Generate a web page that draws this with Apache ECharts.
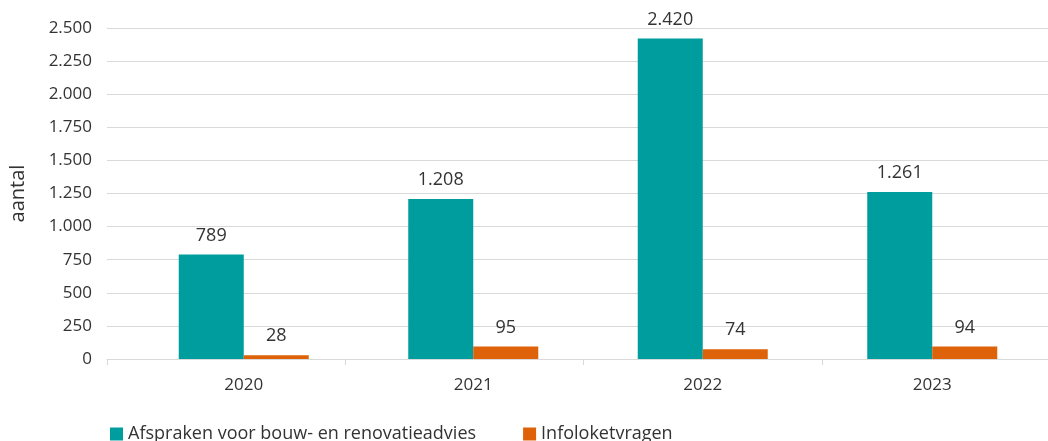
<!DOCTYPE html>
<html>
<head>
<meta charset="utf-8">
<script src="https://cdn.jsdelivr.net/npm/echarts@6/dist/echarts.min.js"></script>
<style>
  html, body { margin: 0; padding: 0; background: #fff; }
  #chart { width: 1048px; height: 441px; }
</style>
</head>
<body>
<div id="chart"></div>
<script>
const years = ['2020', '2021', '2022', '2023']
const afspraken = [789, 1208, 2420, 1261]
const infoloket = [28, 95, 74, 94]
const seriesNames = ['Afspraken voor bouw- en renovatieadvies', 'Infoloketvragen']
const colors = ['#009d9e', '#dd6209']

const font = '"Open Sans", sans-serif'
const fmt = v => String(v).replace(/\B(?=(\d{3})+(?!\d))/g, '.')

const chart = echarts.init(document.getElementById('chart'))
chart.setOption({
  animation: false,
  textStyle: { fontFamily: font },
  legend: {
    left: 105,
    top: 420,
    itemWidth: 13,
    itemHeight: 13,
    itemGap: 47,
    icon: 'rect',
    textStyle: { fontSize: 18, color: '#333', fontFamily: font },
    data: seriesNames
  },
  grid: [
    // axis frame: gridlines, y labels and category ticks
    { left: 107, top: 28, width: 953, height: 331, outerBoundsMode: 'none' },
    // bars and year labels
    { left: 129, top: 28, width: 918, height: 331, outerBoundsMode: 'none' }
  ],
  xAxis: [
    {
      gridIndex: 0,
      type: 'category',
      data: years,
      axisLine: { lineStyle: { color: '#d9d9d9', width: 1 } },
      axisTick: { show: true, length: 6, lineStyle: { color: '#d9d9d9' } },
      axisLabel: { show: false }
    },
    {
      gridIndex: 1,
      type: 'category',
      data: years,
      axisLine: { show: false },
      axisTick: { show: false },
      axisLabel: { fontSize: 17, color: '#333', margin: 18, fontFamily: font }
    }
  ],
  yAxis: [
    {
      gridIndex: 0,
      type: 'value',
      min: 0,
      max: 2500,
      interval: 250,
      name: 'aantal',
      nameLocation: 'middle',
      nameRotate: 90,
      nameGap: 79,
      nameTextStyle: { fontSize: 20, color: '#333', fontFamily: font },
      axisLine: { show: false },
      axisTick: { show: false },
      axisLabel: { fontSize: 17, color: '#333', margin: 15, formatter: fmt, fontFamily: font },
      splitLine: { lineStyle: { color: '#d9d9d9', width: 1 } }
    },
    {
      gridIndex: 1,
      type: 'value',
      min: 0,
      max: 2500,
      interval: 250,
      show: false,
      splitLine: { show: false }
    }
  ],
  series: [
    {
      name: seriesNames[0],
      type: 'bar',
      xAxisIndex: 1,
      yAxisIndex: 1,
      data: afspraken,
      barWidth: 65,
      barGap: '0%',
      itemStyle: { color: colors[0] },
      label: { show: true, position: 'top', distance: 10, fontSize: 18, color: '#333', formatter: p => fmt(p.value), fontFamily: font }
    },
    {
      name: seriesNames[1],
      type: 'bar',
      xAxisIndex: 1,
      yAxisIndex: 1,
      data: infoloket,
      barWidth: 65,
      barGap: '0%',
      itemStyle: { color: colors[1] },
      label: { show: true, position: 'top', distance: 10, fontSize: 18, color: '#333', formatter: p => fmt(p.value), fontFamily: font }
    }
  ]
})
</script>
</body>
</html>
